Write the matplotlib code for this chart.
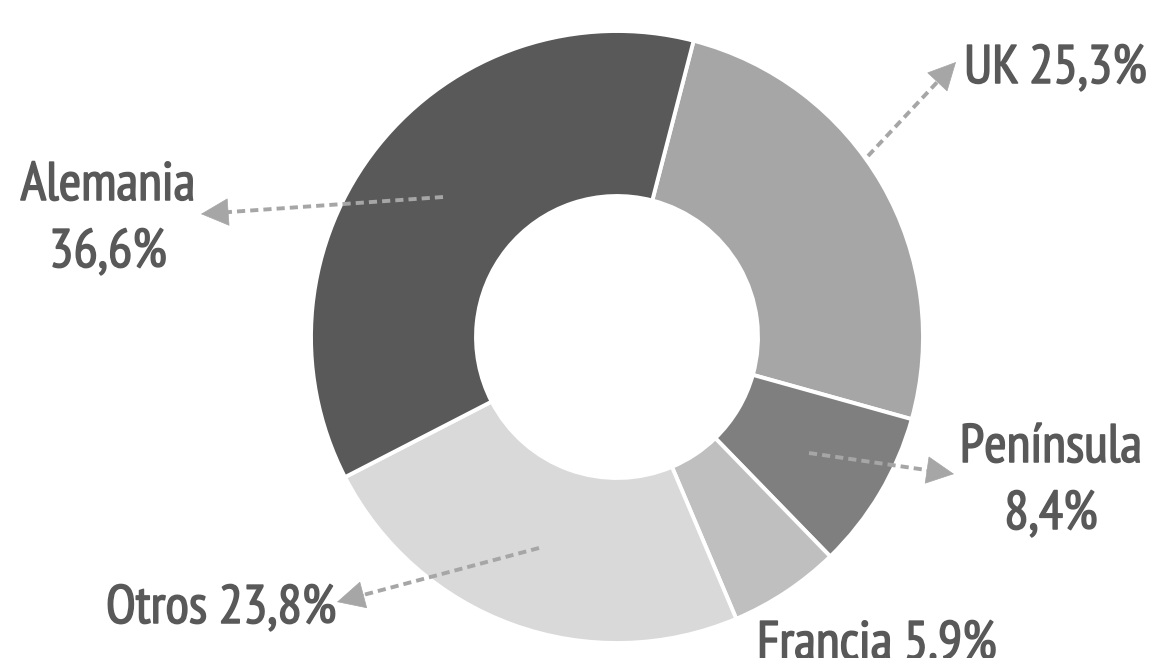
import matplotlib
matplotlib.use("Agg")
import matplotlib.pyplot as plt
import matplotlib.patheffects as pe
import numpy as np

# Data
categories = ["UK", "Península", "Francia", "Otros", "Alemania"]
values = [25.3, 8.4, 5.9, 23.8, 36.6]
labels = ["UK 25,3%", "Península\n8,4%", "Francia 5.9%", "Otros 23,8%", "Alemania\n36,6%"]
colors = ["#a6a6a6", "#7f7f7f", "#bfbfbf", "#d9d9d9", "#595959"]

W, H = 1149, 658
fig = plt.figure(figsize=(W / 100, H / 100), dpi=100)
ax = fig.add_axes([0, 0, 1, 1])

def py(y):
    return H - y

cx, cy, R = 617, py(337), 306
ax.pie(values, colors=colors, startangle=75.5, counterclock=False,
       radius=R, center=(cx, cy),
       wedgeprops=dict(width=165, edgecolor="white", linewidth=2.8))
ax.set_xlim(0, W)
ax.set_ylim(0, H)
ax.set_aspect("equal")
ax.axis("off")

font = ["PT Sans Narrow", "Roboto Condensed", "Open Sans", "DejaVu Sans"]
tc = "#595959"
fs = 39

# label text positions (x, baseline y px of first line, ha)
text_pos = {
    "UK": (964, 83, "left"),
    "Península": (1051, 462, "center"),
    "Francia": (757, 659, "left"),
    "Otros": (106, 623, "left"),
    "Alemania": (108, 200, "center"),
}
# arrows: start (in wedge) -> tip
arrows = {
    "UK": ((868, 156), (956, 62)),
    "Península": ((809, 453), (954, 474)),
    "Otros": ((539, 548), (337, 602)),
    "Alemania": ((443, 197), (201, 214)),
}
head_px = 27
acol = "#a6a6a6"

for cat, lab in zip(categories, labels):
    x, yb, ha = text_pos[cat]
    lines = lab.split("\n")
    for i, line in enumerate(lines):
        ax.text(x, py(yb + i * 67), line, ha=ha, va="baseline",
                fontsize=fs, color=tc, family=font,
                path_effects=[pe.withStroke(linewidth=1.1, foreground=tc)])
    if cat in arrows:
        (x0, y0), (x1, y1) = arrows[cat]
        p0 = np.array([x0, py(y0)], float)
        p1 = np.array([x1, py(y1)], float)
        d = (p1 - p0) / np.hypot(*(p1 - p0))
        pb = p1 - d * head_px
        ax.plot([p0[0], pb[0]], [p0[1], pb[1]], color=acol, lw=2.8,
                linestyle=(0, (2.1, 1.3)), dash_capstyle="butt")
        ax.annotate("", xy=tuple(p1), xytext=tuple(p1 - d * (head_px + 1)),
                    arrowprops=dict(arrowstyle="-|>,head_length=19,head_width=9.5",
                                    mutation_scale=1, color=acol, lw=0.5,
                                    shrinkA=0, shrinkB=0))

fig.savefig("out.png", dpi=100)
